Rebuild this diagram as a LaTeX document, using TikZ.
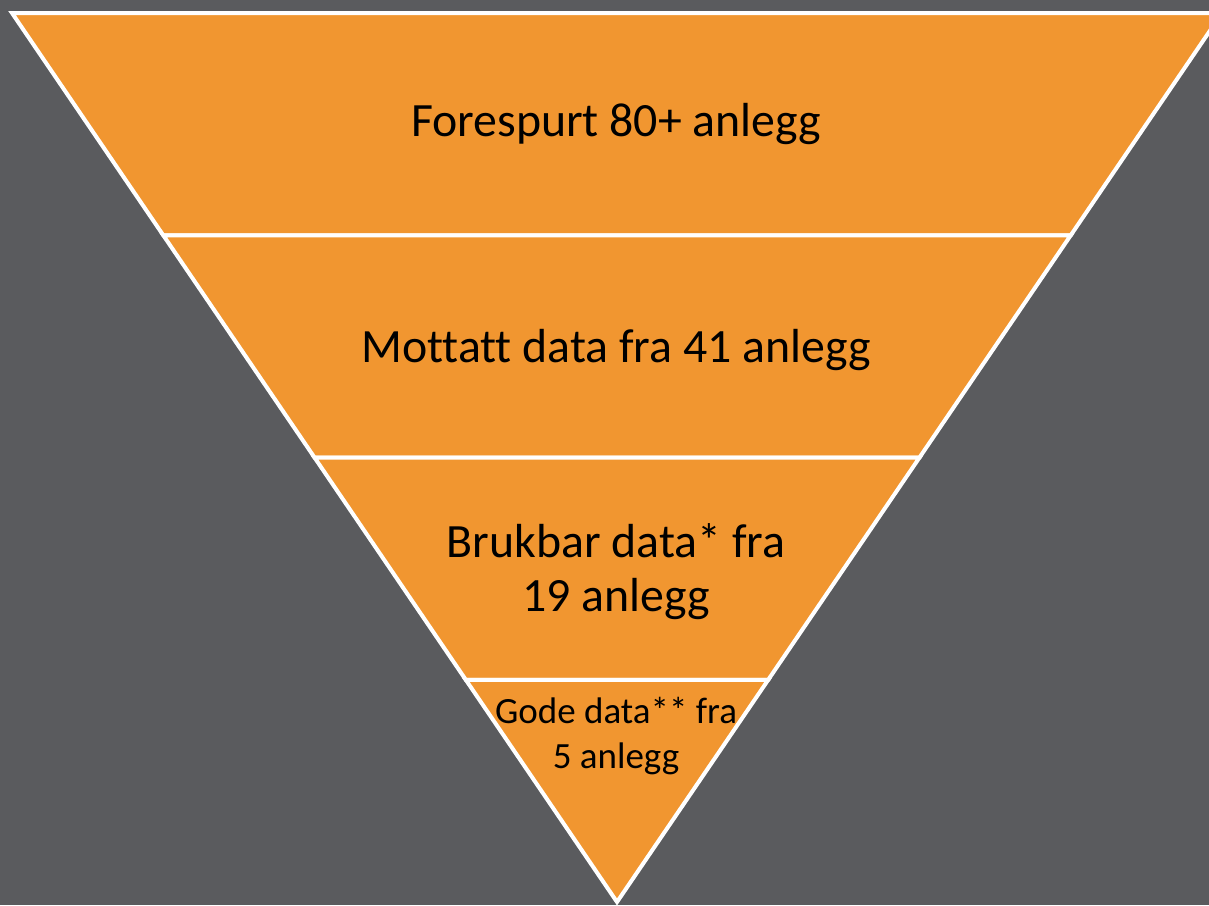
\documentclass[tikz,border=0pt]{standalone}
\usepackage{fontspec}
\setmainfont{Carlito}[Ligatures=CommonOff]
\usetikzlibrary{calc}
\definecolor{bg}{RGB}{90,91,94}
\definecolor{fun}{RGB}{241,150,48}
\begin{document}
\begin{tikzpicture}[x=1pt,y=-1pt,
  band/.style={fill=fun,draw=white,line width=4pt,line join=miter},
  biglbl/.style={font=\fontsize{47.8}{54}\selectfont,align=center,text=black,inner sep=0pt},
  smalllbl/.style={font=\fontsize{37}{45}\selectfont,align=center,text=black,inner sep=0pt}]
\useasboundingbox (0,0) rectangle (1209,905);
\fill[bg] (0,0) rectangle (1209,905);
\clip (0,0) rectangle (1209,905);
\coordinate (TL) at (12,13);
\coordinate (TR) at (1222,13);
\coordinate (A) at (617,902);
\coordinate (L1) at ($(TL)!0.25!(A)$);
\coordinate (R1) at ($(TR)!0.25!(A)$);
\coordinate (L2) at ($(TL)!0.5!(A)$);
\coordinate (R2) at ($(TR)!0.5!(A)$);
\coordinate (L3) at ($(TL)!0.75!(A)$);
\coordinate (R3) at ($(TR)!0.75!(A)$);
\draw[band] (TL) -- (TR) -- (R1) -- (L1) -- cycle;
\draw[band] (L1) -- (R1) -- (R2) -- (L2) -- cycle;
\draw[band] (L2) -- (R2) -- (R3) -- (L3) -- cycle;
\draw[band] (L3) -- (R3) -- (A) -- cycle;
\node[biglbl,anchor=base] (t1) at (616,136) {Forespurt 80+ anlegg};
\node[biglbl,anchor=base] (t2) at (616,362) {Mottatt data fra 41 anlegg};
\node[biglbl] (t3) at (616,572) {Brukbar data* fra\\19 anlegg};
\node[smalllbl] (t4) at (616,736) {Gode data** fra\\5 anlegg};
\end{tikzpicture}
\end{document}
